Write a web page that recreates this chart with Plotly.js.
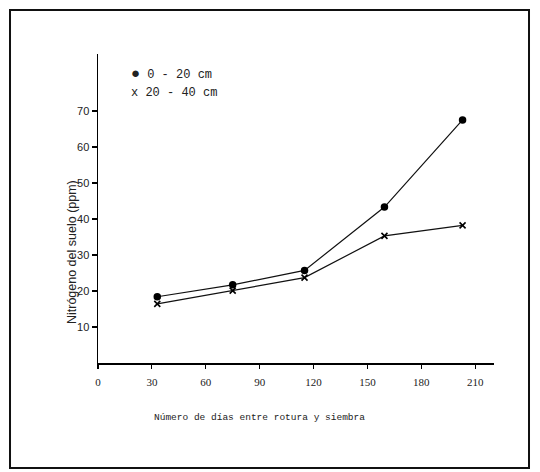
<!DOCTYPE html>
<html>
<head>
<meta charset="utf-8">
<script src="https://cdn.plot.ly/plotly-3.0.1.min.js"></script>
<style>
  html, body { margin: 0; padding: 0; background: #ffffff; }
  #chart { width: 540px; height: 472px; }
</style>
</head>
<body>
<div id="chart"></div>
<script>
// Data
const days = [33, 75, 115, 159.5, 203];
const nitrogen_0_20 = [18.4, 21.7, 25.7, 43.3, 67.5];
const nitrogen_20_40 = [16.4, 20.1, 23.7, 35.3, 38.2];
const xTicks = [0, 30, 60, 90, 120, 150, 180, 210];
const yTicks = [10, 20, 30, 40, 50, 60, 70];
const legendLabels = ["<span style='font-size:15px'>\u25CF</span> 0 - 20 cm", "x 20 - 40 cm"];
const xTitle = "Número de días entre rotura y siembra";
const yTitle = "Nitrógeno del suelo (ppm)";

const traces = [
  {
    x: days, y: nitrogen_0_20, type: 'scatter', mode: 'lines+markers',
    name: '0 - 20 cm',
    line: { color: '#111', width: 1.2 },
    marker: { symbol: 'circle', size: 7.5, color: '#000' },
    showlegend: false
  },
  {
    x: days, y: nitrogen_20_40, type: 'scatter', mode: 'lines+markers',
    name: '20 - 40 cm',
    line: { color: '#111', width: 1.2 },
    marker: { symbol: 'x-thin', size: 6, line: { color: '#000', width: 1.6 }, color: '#000' },
    showlegend: false
  }
];

const layout = {
  width: 540, height: 472,
  margin: { l: 98, r: 46, t: 54, b: 109 },
  paper_bgcolor: '#fff', plot_bgcolor: '#fff',
  xaxis: {
    range: [0, 220.5], tickvals: xTicks, ticktext: xTicks.map(String),
    showgrid: false, zeroline: false, showline: true, linecolor: '#000', linewidth: 1.5,
    ticks: 'outside', ticklen: 4, tickcolor: '#000', tickwidth: 1.2,
    tickfont: { family: 'Liberation Serif, serif', size: 11, color: '#222' },
    ticklabelstandoff: 4
  },
  yaxis: {
    range: [0, 85.8], tickvals: yTicks, ticktext: yTicks.map(String),
    showgrid: false, zeroline: false, showline: true, linecolor: '#000', linewidth: 1.5,
    ticks: 'outside', ticklen: 5, tickcolor: '#000', tickwidth: 1.2,
    tickfont: { family: 'Liberation Sans, Arial, sans-serif', size: 11, color: '#222' }
  },
  annotations: [
    { text: xTitle, xref: 'paper', yref: 'paper', x: 0.409, y: -0.1748,
      xanchor: 'center', yanchor: 'middle', showarrow: false,
      font: { family: 'Liberation Mono, monospace', size: 9.5, color: '#222' } },
    { text: yTitle, xref: 'paper', yref: 'paper', x: -0.0657, y: 0.359, textangle: -90,
      xanchor: 'center', yanchor: 'middle', showarrow: false,
      font: { family: 'Liberation Sans, Arial, sans-serif', size: 12.5, color: '#222' } },
    { text: legendLabels[0], xref: 'paper', yref: 'paper', x: 0.078, y: 0.935,
      xanchor: 'left', yanchor: 'middle', showarrow: false,
      font: { family: 'Liberation Mono, DejaVu Sans Mono, monospace', size: 12, color: '#222' } },
    { text: legendLabels[1], xref: 'paper', yref: 'paper', x: 0.078, y: 0.874,
      xanchor: 'left', yanchor: 'middle', showarrow: false,
      font: { family: 'Liberation Mono, DejaVu Sans Mono, monospace', size: 12, color: '#222' } }
  ],
  shapes: [
    { type: 'rect', xref: 'paper', yref: 'paper',
      x0: -0.2222, x1: 1.0884, y0: -0.3398, y1: 1.1424,
      line: { color: '#111', width: 2 } }
  ]
};

Plotly.newPlot('chart', traces, layout, { displayModeBar: false, staticPlot: true });
</script>
</body>
</html>
